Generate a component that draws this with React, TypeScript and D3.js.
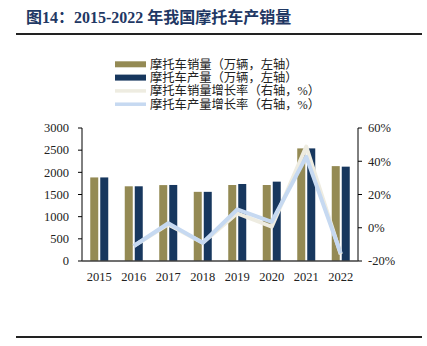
import React from "react";
import * as d3 from "d3";

const years = ["2015", "2016", "2017", "2018", "2019", "2020", "2021", "2022"];
const salesVol = [1885, 1685, 1712, 1560, 1714, 1714, 2540, 2140];
const prodVol = [1885, 1685, 1715, 1560, 1737, 1790, 2540, 2128];
const salesGrowth = [null, -11, 2, -9, 8.7, 0.6, 48.8, -16];
const prodGrowth = [null, -11, 2.7, -9, 11, 3.6, 42.7, -15.4];
const leftTicks = [0, 500, 1000, 1500, 2000, 2500, 3000];
const rightTicks = [-20, 0, 20, 40, 60];
const legendLabels = [
  "摩托车销量（万辆，左轴）",
  "摩托车产量（万辆，左轴）",
  "摩托车销量增长率（右轴，%）",
  "摩托车产量增长率（右轴，%）",
];

const C_SALES = "#948A54";
const C_PROD = "#17375E";
const C_SG = "#EEECE1";
const C_PG = "#C6D9F1";
const SERIF = "'Liberation Serif','Times New Roman','Noto Sans CJK SC',serif";

export default function App() {
  const left = 82, right = 358, top = 128, bottom = 261;
  const x = d3.scaleBand().domain(years).range([left, right]).paddingInner(0).paddingOuter(0);
  const yL = d3.scaleLinear().domain([0, 3000]).range([bottom, top]);
  const yR = d3.scaleLinear().domain([-20, 60]).range([bottom, top]);
  const barW = 8, gap = 2;

  const line = d3
    .line<number | null>()
    .defined((d) => d !== null)
    .x((_, i) => (x(years[i]) as number) + x.bandwidth() / 2)
    .y((d) => yR(d as number));

  const legendColors = [C_SALES, C_PROD, C_SG, C_PG];
  return (
    <svg
      width={427}
      height={346}
      style={{ position: "absolute", left: 0, top: 0, background: "#fff" }}
      fontFamily={SERIF}
    >
      <text x={26} y={23} fontSize={16} fontWeight="bold" fill="#1F3864">
        图14：2015-2022 年我国摩托车产销量
      </text>
      <line x1={16} x2={422} y1={34} y2={34} stroke="#222" strokeWidth={2} />
      <line x1={16} x2={422} y1={337} y2={337} stroke="#222" strokeWidth={2} />

      {legendLabels.map((t, i) => {
        const cy = 64.3 + i * 13.3;
        return (
          <g key={t}>
            <line
              x1={115}
              x2={146}
              y1={cy}
              y2={cy}
              stroke={legendColors[i]}
              strokeWidth={i < 2 ? 6 : 3.5}
            />
            <text x={150} y={cy + 4.3} fontSize={12.3} fill="#222">
              {t}
            </text>
          </g>
        );
      })}

      {years.map((yr, i) => {
        const cx = (x(yr) as number) + x.bandwidth() / 2;
        return (
          <g key={yr}>
            <rect x={cx - gap / 2 - barW} y={yL(salesVol[i])} width={barW} height={bottom - yL(salesVol[i])} fill={C_SALES} />
            <rect x={cx + gap / 2} y={yL(prodVol[i])} width={barW} height={bottom - yL(prodVol[i])} fill={C_PROD} />
            <text x={cx} y={281} fontSize={12.5} textAnchor="middle" fill="#222">
              {yr}
            </text>
          </g>
        );
      })}

      <path d={line(salesGrowth) || ""} fill="none" stroke={C_SG} strokeWidth={4} strokeLinejoin="round" />
      <path d={line(prodGrowth) || ""} fill="none" stroke={C_PG} strokeWidth={4} strokeLinejoin="round" />

      <line x1={left} x2={left} y1={top} y2={bottom} stroke="#000" strokeWidth={1} />
      {leftTicks.map((t) => (
        <g key={t}>
          <line x1={left - 4} x2={left} y1={yL(t)} y2={yL(t)} stroke="#000" />
          <text x={69} y={yL(t) + 4.3} fontSize={12.5} textAnchor="end" fill="#222">
            {t}
          </text>
        </g>
      ))}
      <line x1={right} x2={right} y1={top} y2={bottom} stroke="#000" strokeWidth={1} />
      {rightTicks.map((t) => (
        <g key={t}>
          <line x1={right} x2={right + 4} y1={yR(t)} y2={yR(t)} stroke="#000" />
          <text x={368} y={yR(t) + 4.3} fontSize={12.5} textAnchor="start" fill="#222">
            {t}%
          </text>
        </g>
      ))}
      <line x1={left} x2={right} y1={bottom} y2={bottom} stroke="#404040" strokeWidth={1.5} />
    </svg>
  );
}
